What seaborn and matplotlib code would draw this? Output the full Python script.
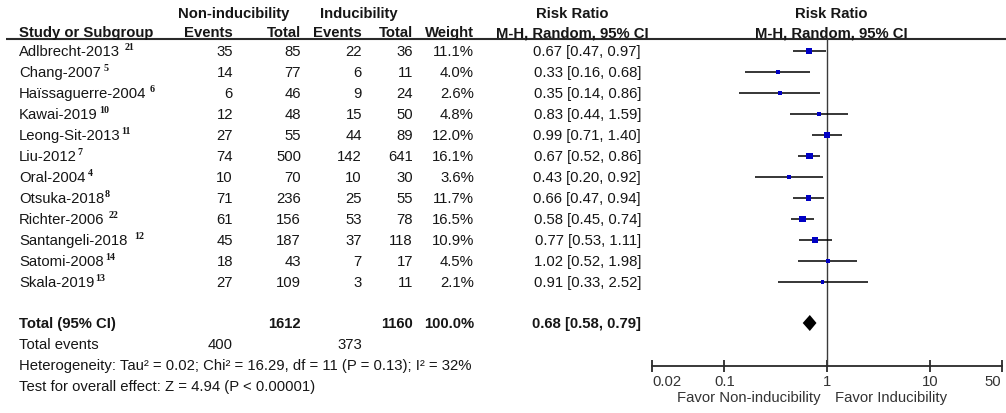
import matplotlib
matplotlib.use("Agg")
import matplotlib.pyplot as plt
import numpy as np
import pandas as pd
import seaborn as sns

# ---- study data -------------------------------------------------------------
studies = ["Adlbrecht-2013", "Chang-2007", "Haïssaguerre-2004", "Kawai-2019",
           "Leong-Sit-2013", "Liu-2012", "Oral-2004", "Otsuka-2018",
           "Richter-2006", "Santangeli-2018", "Satomi-2008", "Skala-2019"]
refs = ["21", "5", "6", "10", "11", "7", "4", "8", "22", "12", "14", "13"]
non_events = [35, 14, 6, 12, 27, 74, 10, 71, 61, 45, 18, 27]
non_total = [85, 77, 46, 48, 55, 500, 70, 236, 156, 187, 43, 109]
ind_events = [22, 6, 9, 15, 44, 142, 10, 25, 53, 37, 7, 3]
ind_total = [36, 11, 24, 50, 89, 641, 30, 55, 78, 118, 17, 11]
weight = [11.1, 4.0, 2.6, 4.8, 12.0, 16.1, 3.6, 11.7, 16.5, 10.9, 4.5, 2.1]
rr = [0.67, 0.33, 0.35, 0.83, 0.99, 0.67, 0.43, 0.66, 0.58, 0.77, 1.02, 0.91]
rr_lo = [0.47, 0.16, 0.14, 0.44, 0.71, 0.52, 0.20, 0.47, 0.45, 0.53, 0.52, 0.33]
rr_hi = [0.97, 0.68, 0.86, 1.59, 1.40, 0.86, 0.92, 0.94, 0.74, 1.11, 1.98, 2.52]

total_non, total_ind = 1612, 1160
total_weight = "100.0%"
events_non, events_ind = 400, 373
pooled_rr, pooled_lo, pooled_hi = 0.68, 0.58, 0.79
heterogeneity = "Heterogeneity: Tau² = 0.02; Chi² = 16.29, df = 11 (P = 0.13); I² = 32%"
overall_effect = "Test for overall effect: Z = 4.94 (P < 0.00001)"

axis_ticks = [0.02, 0.1, 1, 10, 50]
axis_labels = ["0.02", "0.1", "1", "10", "50"]
favor_left = "Favor Non-inducibility"
favor_right = "Favor Inducibility"

# ---- style ------------------------------------------------------------------
sns.set_style("white")
plt.rcParams["font.family"] = ["Liberation Sans", "DejaVu Sans"]
FS = 10.7
INK = "#161616"
BLUE = "#0000c4"

W, H = 1006, 414
fig = plt.figure(figsize=(W / 100, H / 100), dpi=100)

# table layer in pixel coordinates
tab = fig.add_axes([0, 0, 1, 1])
tab.set_xlim(0, W)
tab.set_ylim(H, 0)
tab.axis("off")

row0, row_h = 52, 21.0
row_y = [row0 + i * row_h for i in range(len(studies))]
y_total, y_events, y_het, y_test = 324, 345, 366, 387
name_x = 19
col_r = [233, 301, 362, 413, 474, 641]
ref_gap = [5, 3, 3, 1, 1, 1, 3, 0, 4, 7, 2, 1]

def txt(x, y, s, ha="left", bold=False, **kw):
    return tab.text(x, y, s, ha=ha, va="center", fontsize=FS, color=INK,
                    fontweight="bold" if bold else "normal", **kw)

# headers
txt(234, 14, "Non-inducibility", ha="center", bold=True)
txt(359, 14, "Inducibility", ha="center", bold=True)
txt(572, 14, "Risk Ratio", ha="center", bold=True)
txt(831, 14, "Risk Ratio", ha="center", bold=True)
txt(name_x, 33, "Study or Subgroup", bold=True)
for x, s in zip(col_r[:5], ["Events", "Total", "Events", "Total", "Weight"]):
    txt(x, 33, s, ha="right", bold=True)
txt(572, 33, "M-H, Random, 95% CI", ha="center", bold=True)
txt(831, 33, "M-H, Random, 95% CI", ha="center", bold=True)
tab.plot([6, W], [40, 40], color="#2a2a2a", lw=1.5, solid_capstyle="butt")

# study rows
for i, y in enumerate(row_y):
    t = txt(name_x, y, studies[i])
    tab.annotate(refs[i], xy=(1, 1), xycoords=t,
                 xytext=(ref_gap[i] * 0.72, 1.5), textcoords="offset points",
                 ha="left", va="top", fontsize=7.2, fontweight="bold",
                 family="Liberation Serif", color=INK)
    vals = [str(non_events[i]), str(non_total[i]), str(ind_events[i]),
            str(ind_total[i]), f"{weight[i]:.1f}%",
            f"{rr[i]:.2f} [{rr_lo[i]:.2f}, {rr_hi[i]:.2f}]"]
    for x, s in zip(col_r, vals):
        txt(x, y, s, ha="right")

# totals
txt(name_x, y_total, "Total (95% CI)", bold=True)
txt(col_r[1], y_total, str(total_non), ha="right", bold=True)
txt(col_r[3], y_total, str(total_ind), ha="right", bold=True)
txt(col_r[4], y_total, total_weight, ha="right", bold=True)
txt(col_r[5], y_total, f"{pooled_rr:.2f} [{pooled_lo:.2f}, {pooled_hi:.2f}]",
    ha="right", bold=True)
txt(name_x, y_events, "Total events")
txt(col_r[0], y_events, str(events_non), ha="right")
txt(col_r[2], y_events, str(events_ind), ha="right")
txt(name_x, y_het, heterogeneity)
txt(name_x, y_test, overall_effect)

# ---- forest panel -----------------------------------------------------------
fx0, fx1, fy0, fy1 = 652.5, 1001.5, 40, 367
fax = fig.add_axes([fx0 / W, 1 - fy1 / H, (fx1 - fx0) / W, (fy1 - fy0) / H])
fax.patch.set_alpha(0)
fax.set_xscale("log")

fax.hlines(row_y, rr_lo, rr_hi, color="black", lw=1.1, zorder=2)
df = pd.DataFrame({"rr": rr, "y": row_y, "weight": weight})
sns.scatterplot(data=df, x="rr", y="y", size="weight",
                sizes=(5.5, 24.0),
                size_norm=(min(weight), max(weight)),
                marker="s", color=BLUE, edgecolor="none", linewidth=0,
                legend=False, ax=fax, zorder=3)

dh = 8
fax.fill([pooled_lo, pooled_rr, pooled_hi, pooled_rr],
         [y_total, y_total - dh, y_total, y_total + dh],
         color="black", lw=0, zorder=3)
fax.axvline(1, color="#3a3a3a", lw=1.0, zorder=1)

fax.set_xlim(axis_ticks[0], axis_ticks[-1])
fax.set_ylim(fy1, fy0)
fax.set_xlabel("")
fax.set_ylabel("")
for side in ["top", "left", "right"]:
    fax.spines[side].set_visible(False)
fax.spines["bottom"].set_color("#2a2a2a")
fax.spines["bottom"].set_linewidth(1.3)
fax.set_xticks(axis_ticks, axis_labels)
fax.xaxis.set_minor_locator(matplotlib.ticker.NullLocator())
fax.set_yticks([])
fax.tick_params(axis="x", direction="inout", length=8, width=1.3,
                color="#2a2a2a", labelsize=FS, labelcolor="#333333", pad=2.0,
                bottom=True)
tl = fax.get_xticklabels()
tl[0].set_horizontalalignment("left")
tl[-1].set_horizontalalignment("right")

tab.text(821, 398, favor_left, ha="right", va="center", fontsize=FS,
         color="#333333")
tab.text(835, 398, favor_right, ha="left", va="center", fontsize=FS,
         color="#333333")

fig.savefig("out.png", dpi=100)
